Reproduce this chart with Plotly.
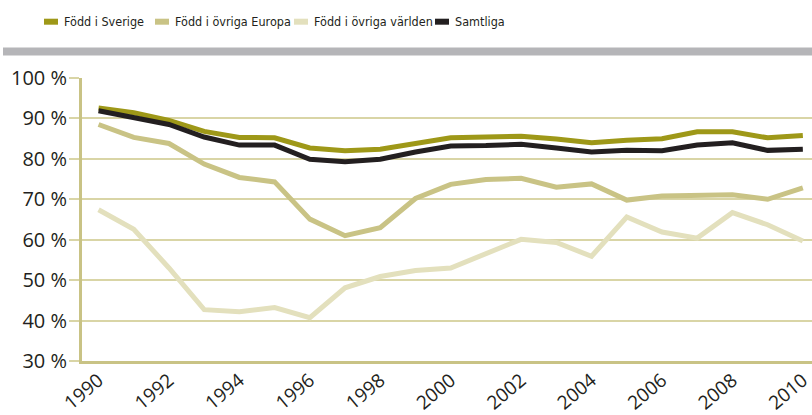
import plotly.graph_objects as go

# Data (andel i procent)
years = list(range(1990, 2011))
fodd_sverige = [92.6, 91.4, 89.5, 86.8, 85.3, 85.2, 82.7, 82.0, 82.4, 83.8, 85.2,
                85.4, 85.6, 84.9, 84.0, 84.6, 85.0, 86.7, 86.7, 85.2, 85.8]
fodd_europa = [88.5, 85.3, 83.8, 78.7, 75.4, 74.3, 65.1, 61.0, 63.0, 70.2, 73.7,
               74.9, 75.2, 73.0, 73.8, 69.8, 70.8, 70.8, 71.1, 70.0, 72.8]
fodd_varlden = [67.4, 62.6, 53.0, 42.7, 42.2, 43.2, 40.7, 48.1, 50.9, 52.4, 53.0,
                56.7, 60.1, 59.3, 55.9, 65.6, 61.9, 60.4, 66.7, 63.7, 59.7]
samtliga = [91.9, 90.3, 88.5, 85.4, 83.4, 83.4, 79.9, 79.3, 79.9, 81.7, 83.2,
            83.3, 83.6, 82.7, 81.7, 82.1, 82.0, 83.4, 84.0, 82.1, 82.4]

series_names = ["Född i Sverige", "Född i övriga Europa", "Född i övriga världen", "Samtliga"]
series_values = [fodd_sverige, fodd_europa, fodd_varlden, samtliga]
colors = ["#9e9818", "#c9c385", "#e3e0bd", "#231f20"]

y_ticks = [30, 40, 50, 60, 70, 80, 90, 100]
y_tick_labels = [f"{v} %" for v in y_ticks]
x_ticks = list(range(1990, 2011, 2))

# plot area in pixels
L, R, T, B = 82, 0, 77.5, 53.5
W, H = 812, 415
PW, PH = W - L - R, H - T - B


def px_x(x):
    return (x - L) / PW


def px_y(y):
    return (H - B - y) / PH


fig = go.Figure()

# draw light series first, total on top
for i in [2, 1, 0, 3]:
    fig.add_trace(go.Scatter(
        x=years, y=series_values[i], name=series_names[i], mode="lines",
        line=dict(color=colors[i], width=5, shape="linear"),
        showlegend=False, cliponaxis=False,
    ))

# grey band under the legend
fig.add_shape(type="rect", xref="paper", yref="paper",
              x0=px_x(3), x1=1.0, y0=px_y(55), y1=px_y(47),
              fillcolor="#b5b5b8", line_width=0, layer="above")

# manual legend
legend_x = [42, 153, 292, 433]
for i, name in enumerate(series_names):
    x0 = legend_x[i]
    fig.add_shape(type="line", xref="paper", yref="paper",
                  x0=px_x(x0 + 2), x1=px_x(x0 + 16), y0=px_y(21), y1=px_y(21),
                  line=dict(color=colors[i], width=6))
    fig.add_annotation(text=name, xref="paper", yref="paper",
                       x=px_x(x0 + 20), y=px_y(21), xanchor="left", yanchor="middle",
                       showarrow=False,
                       font=dict(family="DejaVu Sans Condensed, Roboto", size=12.5, color="#231f20"))

fig.update_layout(
    width=W, height=H,
    margin=dict(l=L, r=R, t=T, b=B, autoexpand=False),
    paper_bgcolor="white", plot_bgcolor="white",
    font=dict(family="Open Sans", color="#231f20", size=19),
    xaxis=dict(
        range=[1989.53, 2010.26], tickvals=x_ticks, tickangle=-40,
        showgrid=False, zeroline=False, automargin=False,
        showline=True, linecolor="#c9c385", linewidth=3,
        ticks="", ticklabelstandoff=-2, ticklabeloverflow="allow",
        tickfont=dict(size=19, color="#231f20"),
    ),
    yaxis=dict(
        range=[30, 100], tickvals=y_ticks, ticktext=y_tick_labels,
        showgrid=True, gridcolor="#d9d5a6", gridwidth=2,
        zeroline=False, automargin=False,
        showline=True, linecolor="#c9c385", linewidth=3,
        ticks="outside", ticklen=10, tickwidth=2, tickcolor="#d9d5a6",
        ticklabelstandoff=-2,
        tickfont=dict(size=20, color="#231f20"),
    ),
)

# the page body has a default 8px margin; remove it so the figure fills the window
fig.write_html("out.html", config={"displayModeBar": False},
               post_script="document.body.style.margin = '0';")
